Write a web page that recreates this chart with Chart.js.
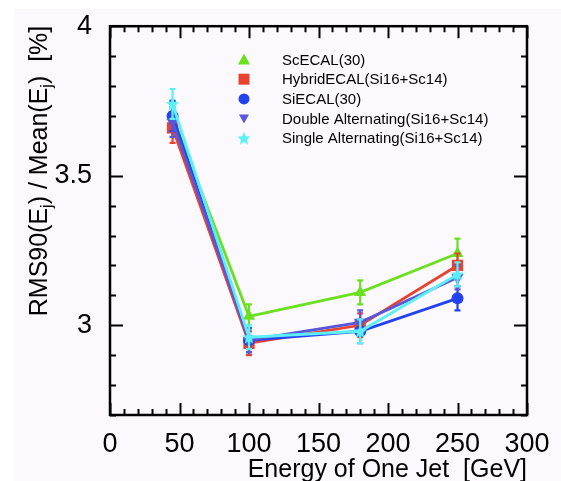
<!DOCTYPE html>
<html>
<head>
<meta charset="utf-8">
<title>Jet energy resolution</title>
<script src="https://cdn.jsdelivr.net/npm/chart.js@4.4.1/dist/chart.umd.min.js"></script>
<style>
  html, body { margin: 0; padding: 0; background: #ffffff; }
  #wrap { width: 561px; height: 481px; }
</style>
</head>
<body>
<div id="wrap"><canvas id="jetChart" width="561" height="481"></canvas></div>
<script>
// jet energy points [GeV]
const energies = [45, 100, 180, 250];
const xTicks = [0, 50, 100, 150, 200, 250, 300];
const yTicks = [3, 3.5, 4];

const seriesLabels = [
  'ScECAL(30)',
  'HybridECAL(Si16+Sc14)',
  'SiECAL(30)',
  'Double Alternating(Si16+Sc14)',
  'Single Alternating(Si16+Sc14)'
];

// RMS90 / Mean [%]
const scEcal     = [3.70, 3.03, 3.11, 3.24];
const hybridEcal = [3.66, 2.94, 3.00, 3.20];
const siEcal     = [3.70, 2.95, 2.98, 3.09];
const doubleAlt  = [3.68, 2.95, 3.01, 3.16];
const singleAlt  = [3.74, 2.96, 2.98, 3.17];

// statistical errors
const scEcalErr     = [0.05, 0.04, 0.04, 0.05];
const hybridEcalErr = [0.05, 0.04, 0.04, 0.04];
const siEcalErr     = [0.05, 0.04, 0.04, 0.04];
const doubleAltErr  = [0.05, 0.04, 0.04, 0.04];
const singleAltErr  = [0.05, 0.04, 0.04, 0.04];

const FONT = "'Liberation Sans', Arial, Helvetica, sans-serif";
Chart.defaults.font.family = FONT;
Chart.defaults.color = '#000';

// filled five-point star used as a marker
function makeStar(color, size) {
  const c = document.createElement('canvas');
  c.width = size; c.height = size;
  const g = c.getContext('2d');
  const cx = size / 2, cy = size / 2 + 0.5, ro = size / 2, ri = ro * 0.45;
  g.beginPath();
  for (let i = 0; i < 10; i++) {
    const r = i % 2 ? ri : ro;
    const a = -Math.PI / 2 + i * Math.PI / 5;
    g.lineTo(cx + r * Math.cos(a), cy + r * Math.sin(a));
  }
  g.closePath();
  g.fillStyle = color;
  g.fill();
  return c;
}

const colors = ['#6be01f', '#e8432e', '#2343f2', '#5a56d8', '#5cf0f6'];
const starMark = makeStar(colors[4], 14);

function series(i, values, errors, style, radius, rotation) {
  return {
    label: seriesLabels[i],
    data: energies.map((e, k) => ({ x: e, y: values[k] })),
    errors: errors,
    borderColor: colors[i],
    backgroundColor: colors[i],
    borderWidth: 2.8,
    pointStyle: style,
    pointRadius: radius,
    pointRotation: rotation || 0,
    pointBorderWidth: 0,
    order: 5 - i
  };
}

const datasets = [
  series(0, scEcal, scEcalErr, 'triangle', 7),
  series(1, hybridEcal, hybridEcalErr, 'rect', 8),
  series(2, siEcal, siEcalErr, 'circle', 6),
  series(3, doubleAlt, doubleAltErr, 'triangle', 7, 180),
  series(4, singleAlt, singleAltErr, starMark, 7)
];

const pageBackground = {
  id: 'pageBackground',
  beforeDraw(chart) {
    const { ctx, width, height } = chart;
    ctx.save();
    ctx.fillStyle = '#ffffff';
    ctx.fillRect(0, 0, width, height);
    ctx.fillStyle = '#fbf9fd';
    ctx.fillRect(14, 9, width - 14, height - 9);
    ctx.restore();
  }
};

// box around the plot with inward ticks on all four sides
const frameTicks = {
  id: 'frameTicks',
  beforeDatasetsDraw(chart) {
    const { ctx, chartArea: a, scales: { x, y } } = chart;
    ctx.save();
    ctx.strokeStyle = '#000';
    ctx.lineWidth = 2;
    ctx.beginPath();
    for (let v = x.min; v <= x.max; v += 10) {
      const px = Math.round(x.getPixelForValue(v)) + 0.5;
      const len = v % 50 === 0 ? 12 : 6;
      ctx.moveTo(px, a.bottom); ctx.lineTo(px, a.bottom - len);
      ctx.moveTo(px, a.top); ctx.lineTo(px, a.top + len);
    }
    const n = Math.round((y.max - y.min) * 10);
    for (let i = 0; i <= n; i++) {
      const v = Math.round(y.min * 10 + i) / 10;
      const py = Math.round(y.getPixelForValue(v)) + 0.5;
      const major = Math.abs(v * 2 - Math.round(v * 2)) < 1e-6;
      const len = major ? 13 : 6;
      ctx.moveTo(a.left, py); ctx.lineTo(a.left + len, py);
      ctx.moveTo(a.right, py); ctx.lineTo(a.right - len, py);
    }
    ctx.stroke();
    ctx.lineWidth = 2.5;
    ctx.strokeRect(a.left, a.top, a.right - a.left, a.bottom - a.top);
    ctx.restore();
  }
};

// vertical error bars, drawn under each dataset's markers
const errorBars = {
  id: 'errorBars',
  beforeDatasetDraw(chart, args) {
    const ds = chart.data.datasets[args.index];
    const y = chart.scales.y;
    const { ctx } = chart;
    ctx.save();
    ctx.strokeStyle = ds.borderColor;
    ctx.lineWidth = 2.2;
    ctx.beginPath();
    args.meta.data.forEach((pt, k) => {
      const v = ds.data[k].y, e = ds.errors[k];
      const top = y.getPixelForValue(v + e), bot = y.getPixelForValue(v - e);
      ctx.moveTo(pt.x, top); ctx.lineTo(pt.x, bot);
      ctx.moveTo(pt.x - 3, top); ctx.lineTo(pt.x + 3, top);
      ctx.moveTo(pt.x - 3, bot); ctx.lineTo(pt.x + 3, bot);
    });
    ctx.stroke();
    ctx.restore();
  }
};

function drawMarker(ctx, style, color, x, y) {
  ctx.fillStyle = color;
  ctx.beginPath();
  if (style === 'triangle') {
    ctx.moveTo(x, y - 6);
    ctx.lineTo(x + 6, y + 5);
    ctx.lineTo(x - 6, y + 5);
    ctx.closePath();
    ctx.fill();
  } else if (style === 'down') {
    ctx.moveTo(x, y + 5);
    ctx.lineTo(x + 5, y - 4);
    ctx.lineTo(x - 5, y - 4);
    ctx.closePath();
    ctx.fill();
  } else if (style === 'rect') {
    ctx.fillRect(x - 5.5, y - 5.5, 11, 11);
  } else if (style === 'circle') {
    ctx.arc(x, y, 5.5, 0, Math.PI * 2);
    ctx.fill();
  } else {
    ctx.drawImage(style, x - style.width / 2, y - style.height / 2);
  }
}

const legendMarks = ['triangle', 'rect', 'circle', 'down', starMark];

const plotLegend = {
  id: 'plotLegend',
  afterDraw(chart) {
    const { ctx } = chart;
    ctx.save();
    ctx.font = '15px ' + FONT;
    ctx.textBaseline = 'middle';
    ctx.textAlign = 'left';
    seriesLabels.forEach((label, i) => {
      const yy = 59.5 + i * 19.7;
      drawMarker(ctx, legendMarks[i], colors[i], 244, yy);
      ctx.fillStyle = '#000';
      ctx.fillText(label, 282, yy + 1);
    });
    ctx.restore();
  }
};

// rotated y title with subscripts
const yTitle = {
  id: 'yTitle',
  afterDraw(chart) {
    const { ctx } = chart;
    const parts = [
      ['RMS90(E', false], ['j', true], [') / Mean(E', false], ['j', true], [')  [%]', false]
    ];
    const big = '25px ' + FONT, small = '16px ' + FONT;
    ctx.save();
    ctx.translate(47, 171);
    ctx.rotate(-Math.PI / 2);
    ctx.fillStyle = '#000';
    ctx.textBaseline = 'alphabetic';
    let total = 0;
    parts.forEach(p => { ctx.font = p[1] ? small : big; total += ctx.measureText(p[0]).width; });
    let cx = -total / 2;
    parts.forEach(p => {
      ctx.font = p[1] ? small : big;
      ctx.fillText(p[0], cx, p[1] ? 5 : 0);
      cx += ctx.measureText(p[0]).width;
    });
    ctx.restore();
  }
};

new Chart(document.getElementById('jetChart'), {
  type: 'line',
  data: { datasets: datasets },
  options: {
    responsive: false,
    animation: false,
    layout: { padding: { top: 22, right: 34, left: 0, bottom: 0 } },
    plugins: {
      legend: { display: false },
      tooltip: { enabled: false }
    },
    scales: {
      x: {
        type: 'linear',
        min: 0,
        max: 300,
        afterBuildTicks: s => { s.ticks = xTicks.map(v => ({ value: v })); },
        afterFit: s => { s.height = 66; },
        ticks: { font: { size: 27 }, padding: 5, maxRotation: 0, callback: v => String(v) },
        grid: { display: false },
        border: { display: false },
        title: {
          display: true,
          text: 'Energy of One Jet  [GeV]',
          align: 'end',
          font: { size: 25, lineHeight: 1 },
          padding: { top: 0, bottom: -2 }
        }
      },
      y: {
        type: 'linear',
        min: 2.7,
        max: 4.0,
        afterBuildTicks: s => { s.ticks = yTicks.map(v => ({ value: v })); },
        afterFit: s => { s.width = 110; },
        ticks: { font: { size: 27 }, padding: 10, callback: v => String(v) },
        grid: { display: false },
        border: { display: false }
      }
    }
  },
  plugins: [pageBackground, frameTicks, errorBars, plotLegend, yTitle]
});
</script>
</body>
</html>
